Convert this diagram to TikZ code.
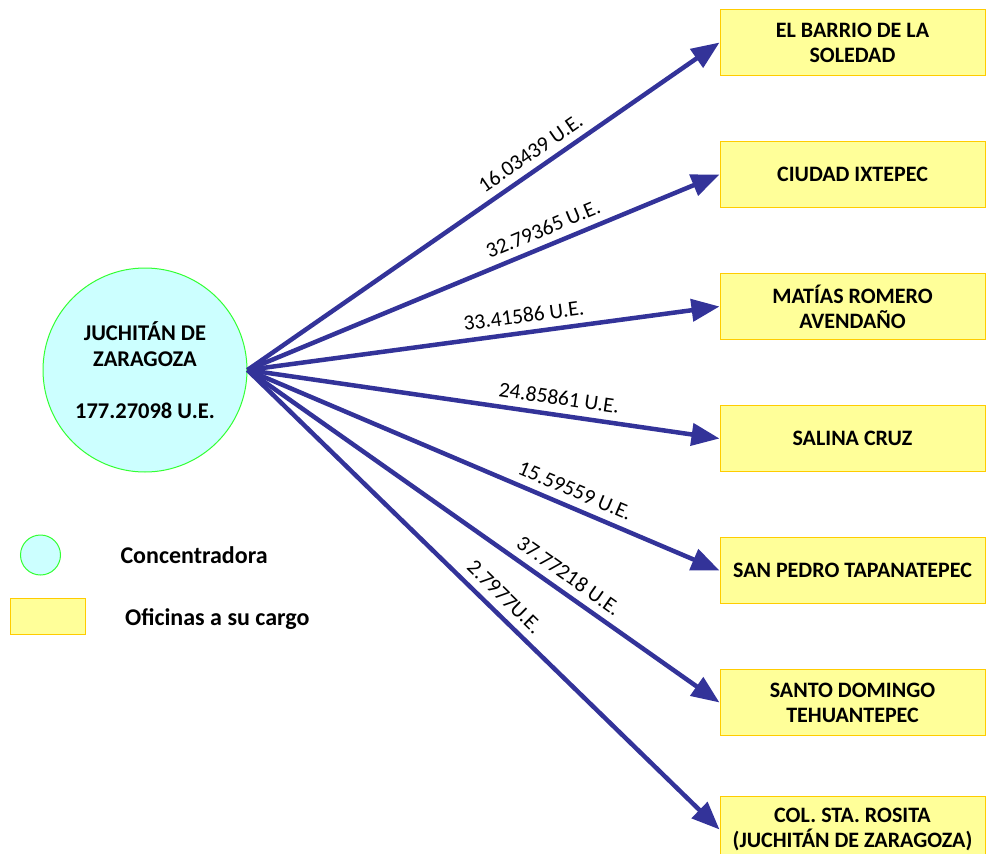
\documentclass[tikz,border=0pt]{standalone}
\usepackage{fontspec}
\setmainfont{Carlito}
\usetikzlibrary{positioning, arrows.meta}
\definecolor{azul}{RGB}{51,51,153}
\definecolor{cian}{RGB}{204,255,255}
\definecolor{verde}{RGB}{51,255,51}
\definecolor{amarillo}{RGB}{255,255,153}
\definecolor{oro}{RGB}{255,204,0}
\tikzstyle{Oficina} = [
draw=oro, fill=amarillo, line width=1pt,
minimum width=265pt, minimum height=66pt,
align=center, font=\bfseries\fontsize{22}{25}\selectfont]
\tikzstyle{Arrow} = [
line width=4.5pt, draw=azul,
-{Triangle[length=28pt, width=22pt]}]
\tikzstyle{Etiqueta} = [
sloped, above, inner sep=7.5pt,
font=\fontsize{21.5}{24}\selectfont]

\begin{document}
\begin{tikzpicture}[x=1pt, y=-1pt, node distance=65pt]
    \useasboundingbox (0,0) rectangle (986,854);
    \node [circle, draw=verde, fill=cian, line width=1pt, minimum size=204pt,
        align=center, font=\bfseries\fontsize{22.5}{26}\selectfont]
        (J) at (145,370) {JUCHITÁN DE\\ZARAGOZA\\[26pt]177.27098 U.E.};
    \node [Oficina] (1) at (852.5,42.5) {EL BARRIO DE LA\\SOLEDAD};
    \node [Oficina, below =of 1] (2) {CIUDAD IXTEPEC};
    \node [Oficina, below =of 2] (3) {MATÍAS ROMERO\\AVENDAÑO};
    \node [Oficina, below =of 3] (4) {SALINA CRUZ};
    \node [Oficina, below =of 4] (5) {SAN PEDRO TAPANATEPEC};
    \node [Oficina, below =of 5] (6) {SANTO DOMINGO\\TEHUANTEPEC};
    \node [Oficina, below =60pt of 6.south east, anchor=north east] (7)
        {COL. STA. ROSITA\\(JUCHITÁN DE ZARAGOZA)};
    % leyenda
    \node [circle, draw=verde, fill=cian, line width=1pt, minimum size=40pt]
        (c) at (40.5,555) {};
    \node [right =56pt of c, font=\bfseries\fontsize{24}{26}\selectfont]
        (ct) {Concentradora};
    \node [draw=oro, fill=amarillo, line width=1pt, minimum width=75pt,
        minimum height=36pt] (r) at (47.5,616) {};
    \node [right =36pt of r, yshift=-3pt, font=\bfseries\fontsize{24}{26}\selectfont]
        (rt) {Oficinas a su cargo};
    \draw[Arrow] (J.east) -- node[Etiqueta, pos=0.62] {16.03439 U.E.} (1.west);
    \draw[Arrow] (J.east) -- node[Etiqueta, pos=0.64] {32.79365 U.E.} (2.west);
    \draw[Arrow] (J.east) -- node[Etiqueta, pos=0.59] {33.41586 U.E.} (3.west);
    \draw[Arrow] (J.east) -- node[Etiqueta, pos=0.655] {24.85861 U.E.} (4.west);
    \draw[Arrow] (J.east) -- node[Etiqueta, pos=0.68] {15.59559 U.E.} (5.west);
    \draw[Arrow] (J.east) -- node[Etiqueta, pos=0.66] {37.77218 U.E.} (6.west);
    \draw[Arrow] (J.east) -- node[Etiqueta, pos=0.52] {2.7977U.E.} (7.west);
\end{tikzpicture}
\end{document}
